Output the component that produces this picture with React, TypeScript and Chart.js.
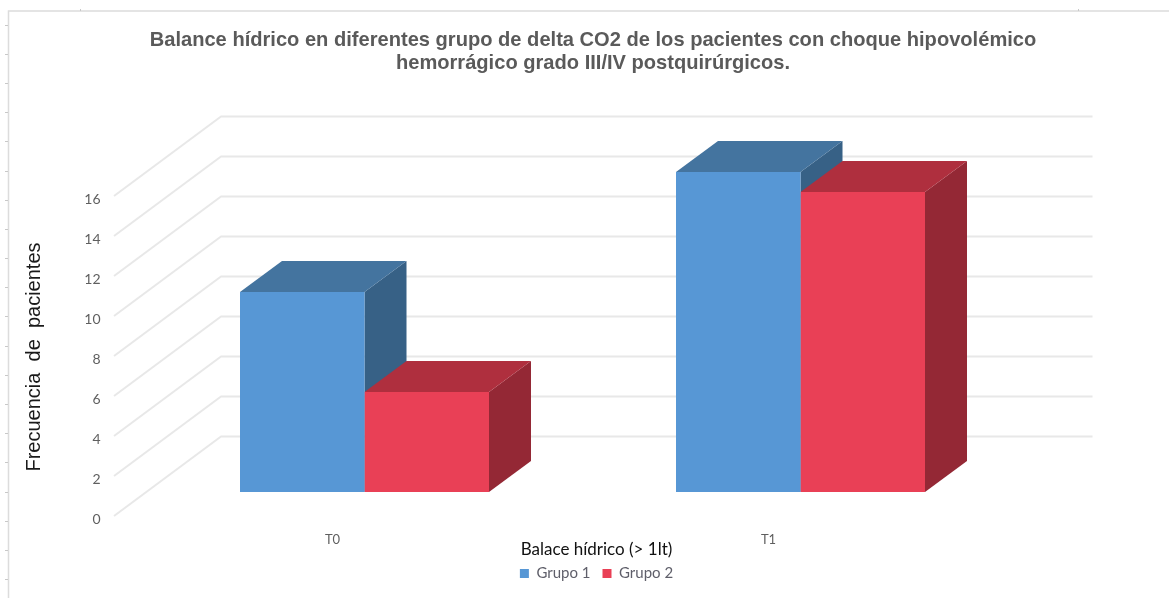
import { useEffect, useRef } from "react";
import { Chart, registerables } from "chart.js";

Chart.register(...registerables);

const categories = ["T0", "T1"];
const grupo1 = [10, 16];
const grupo2 = [5, 15];
const seriesNames = ["Grupo 1", "Grupo 2"];
const titleLines = [
  "Balance hídrico en diferentes grupo de delta CO2 de los pacientes con choque hipovolémico",
  "hemorrágico grado III/IV postquirúrgicos.",
];
const yAxisLabel = "Frecuencia  de  pacientes";
const legendHeading = "Balace hídrico (> 1lt)";

const frontColors = ["#5797d5", "#e94056"];
const topColors = ["#44749f", "#af2f3e"];
const sideColors = ["#376186", "#942835"];

const W = 1169;
const H = 598;
const PLOT_BOTTOM = 492;
const BAR_DX = 42;
const BAR_DY = 31;

// Perspective floor and back wall, drawn from the value axis ticks.
const wallPlugin = {
  id: "wall",
  beforeDatasetsDraw(chart: any) {
    const { ctx, chartArea, scales } = chart;
    ctx.save();
    ctx.strokeStyle = "#e8e8e8";
    ctx.lineWidth = 2;
    ctx.lineJoin = "round";
    for (const tick of scales.y.ticks) {
      const y = scales.y.getPixelForValue(tick.value);
      ctx.beginPath();
      ctx.moveTo(chartArea.left - 32.5, y + 24);
      ctx.lineTo(chartArea.left + 74.5, y - 55.5);
      ctx.lineTo(chartArea.right + 74, y - 55.5);
      ctx.stroke();
    }
    ctx.restore();
  },
};

// Side and top faces of each bar; the front faces are the library's own bars.
const depthPlugin = {
  id: "depth",
  beforeDatasetsDraw(chart: any) {
    const { ctx } = chart;
    const polygon = (pts: number[][], fill: string) => {
      ctx.fillStyle = fill;
      ctx.beginPath();
      pts.forEach(([x, y], i) => (i ? ctx.lineTo(x, y) : ctx.moveTo(x, y)));
      ctx.closePath();
      ctx.fill();
    };
    ctx.save();
    chart.data.datasets.forEach((_: any, d: number) => {
      chart.getDatasetMeta(d).data.forEach((bar: any) => {
        const left = bar.x - bar.width / 2;
        const right = bar.x + bar.width / 2;
        polygon(
          [
            [right, bar.y],
            [right + BAR_DX, bar.y - BAR_DY],
            [right + BAR_DX, bar.base - BAR_DY],
            [right, bar.base],
          ],
          sideColors[d]
        );
        polygon(
          [
            [left, bar.y],
            [left + BAR_DX, bar.y - BAR_DY],
            [right + BAR_DX, bar.y - BAR_DY],
            [right, bar.y],
          ],
          topColors[d]
        );
      });
    });
    ctx.restore();
  },
};

// Thin sheet border with its ruler marks, plus the rotated axis caption.
const sheetPlugin = {
  id: "sheet",
  beforeDraw(chart: any) {
    const { ctx } = chart;
    ctx.save();
    ctx.fillStyle = "#ffffff";
    ctx.fillRect(0, 0, W, H);
    ctx.strokeStyle = "#dcdcdc";
    ctx.lineWidth = 1.5;
    ctx.beginPath();
    ctx.moveTo(W, 11);
    ctx.lineTo(8.5, 11);
    ctx.lineTo(8.5, H);
    ctx.stroke();
    ctx.strokeStyle = "#c8c8c8";
    ctx.lineWidth = 1;
    ctx.beginPath();
    for (let y = 24.5; y < H; y += 29.2) {
      ctx.moveTo(5, Math.round(y) + 0.5);
      ctx.lineTo(8, Math.round(y) + 0.5);
    }
    for (const x of [80.5, 1078.5]) {
      ctx.moveTo(x, 9);
      ctx.lineTo(x, 11);
    }
    ctx.stroke();
    ctx.restore();
  },
  afterDraw(chart: any) {
    const { ctx } = chart;
    ctx.save();
    ctx.translate(34, 357);
    ctx.rotate(-Math.PI / 2);
    ctx.fillStyle = "#1a1a1a";
    ctx.font = "20px 'Liberation Sans'";
    ctx.textAlign = "center";
    ctx.textBaseline = "middle";
    ctx.fillText(yAxisLabel, 0, 0);
    ctx.restore();
  },
};

// Title and legend are centred on their own columns, not on the plot.
const placementPlugin = {
  id: "placement",
  afterLayout(chart: any) {
    const block = chart.titleBlock;
    block.left = 0;
    block.right = 1186;
    const legend = chart.legend;
    const h = legend.bottom - legend.top;
    legend.left = 0;
    legend.right = 1193;
    legend.top = 541.5;
    legend.bottom = 541.5 + h;
  },
};

export default function App() {
  const ref = useRef<HTMLCanvasElement>(null);

  useEffect(() => {
    const chart = new Chart(ref.current!, {
      type: "bar",
      data: {
        labels: categories,
        datasets: [
          {
            label: seriesNames[0],
            data: grupo1,
            backgroundColor: frontColors[0],
            borderWidth: 0,
            barPercentage: 1,
            categoryPercentage: 0.5711,
          },
          {
            label: seriesNames[1],
            data: grupo2,
            backgroundColor: frontColors[1],
            borderWidth: 0,
            barPercentage: 1,
            categoryPercentage: 0.5711,
          },
        ],
      },
      plugins: [sheetPlugin, wallPlugin, depthPlugin, placementPlugin],
      options: {
        responsive: false,
        animation: false,
        events: [],
        layout: { autoPadding: false, padding: { left: 0, right: 150.5, top: 0, bottom: 0 } },
        plugins: {
          tooltip: { enabled: false },
          title: {
            display: true,
            text: titleLines,
            color: "#5a5a5a",
            font: { family: "'Liberation Sans'", size: 20.1, weight: "bold", lineHeight: 1.145 },
            padding: { top: 28.5, bottom: 97.5 },
          },
          legend: {
            display: true,
            position: "bottom",
            title: {
              display: true,
              text: legendHeading,
              color: "#111111",
              font: { family: "Lato", size: 17 },
              padding: { top: 0, bottom: -8 },
            },
            labels: {
              boxWidth: 9,
              boxHeight: 9,
              color: "#5f5f6a",
              font: { family: "Lato", size: 15 },
              padding: 12,
            },
          },
        },
        scales: {
          x: {
            grid: { display: false, drawTicks: false },
            border: { display: false },
            ticks: {
              color: "#5f5f5f",
              font: { family: "Lato", size: 13 },
              padding: 40,
              labelOffset: -32,
              maxRotation: 0,
            },
            afterFit(scale: any) {
              scale.height = H - PLOT_BOTTOM - (scale.chart.legend?.height ?? 0);
            },
          },
          y: {
            min: 0,
            max: 16,
            grid: { display: false, drawTicks: false },
            border: { display: false },
            ticks: {
              stepSize: 2,
              color: "#5f5f5f",
              font: { family: "Lato", size: 14 },
              padding: 46,
              labelOffset: 27,
            },
            afterFit(scale: any) {
              scale.width = 146.5;
            },
          },
        },
      },
    } as any);
    return () => chart.destroy();
  }, []);

  return (
    <canvas
      ref={ref}
      width={W}
      height={H}
      style={{ position: "fixed", left: 0, top: 0, display: "block" }}
    />
  );
}
